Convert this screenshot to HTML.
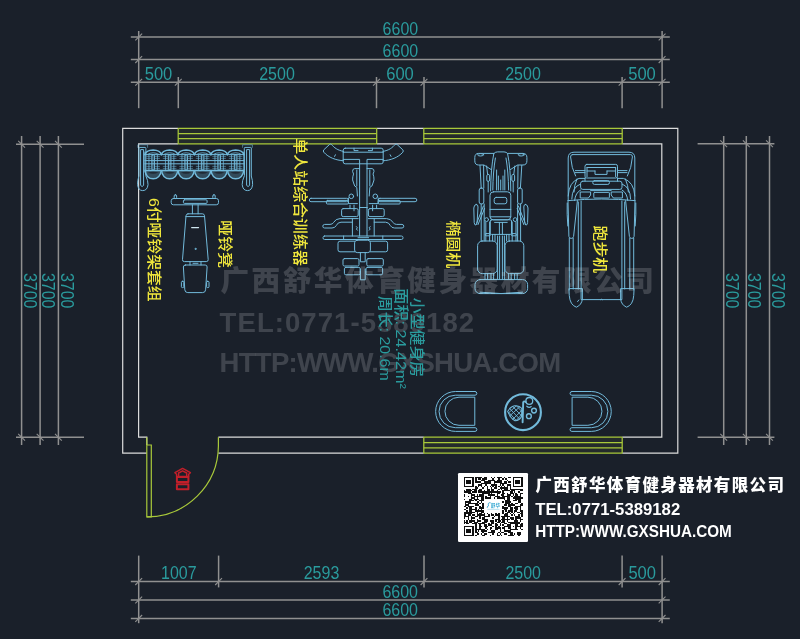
<!DOCTYPE html>
<html lang="zh-CN"><head><meta charset="utf-8"><title>小型健身房 平面布置图</title>
<style>html,body{margin:0;padding:0;background:#1a202a;overflow:hidden}svg{display:block;filter:blur(0.35px)}text{white-space:pre}</style>
</head><body>
<svg width="800" height="639" viewBox="0 0 800 639">
<rect width="800" height="639" fill="#1a202a"/>
<g id="dims" fill="none" stroke-linecap="butt">
<line x1="130.8" y1="37" x2="669.8" y2="37" stroke="#909090" stroke-width="1.5" />
<line x1="130.8" y1="59.6" x2="669.8" y2="59.6" stroke="#909090" stroke-width="1.5" />
<line x1="130.8" y1="82.3" x2="669.8" y2="82.3" stroke="#909090" stroke-width="1.5" />
<line x1="138.7" y1="31" x2="138.7" y2="108.2" stroke="#909090" stroke-width="1.5" />
<line x1="662.1" y1="31" x2="662.1" y2="108.2" stroke="#909090" stroke-width="1.5" />
<line x1="178.3" y1="77" x2="178.3" y2="108.2" stroke="#909090" stroke-width="1.5" />
<line x1="376.5" y1="77" x2="376.5" y2="108.2" stroke="#909090" stroke-width="1.5" />
<line x1="424" y1="77" x2="424" y2="108.2" stroke="#909090" stroke-width="1.5" />
<line x1="622.1" y1="77" x2="622.1" y2="108.2" stroke="#909090" stroke-width="1.5" />
<line x1="135.3" y1="40.4" x2="142.1" y2="33.6" stroke="#909090" stroke-width="1.1" />
<line x1="658.7" y1="40.4" x2="665.5" y2="33.6" stroke="#909090" stroke-width="1.1" />
<line x1="135.3" y1="63.0" x2="142.1" y2="56.2" stroke="#909090" stroke-width="1.1" />
<line x1="658.7" y1="63.0" x2="665.5" y2="56.2" stroke="#909090" stroke-width="1.1" />
<line x1="135.3" y1="85.7" x2="142.1" y2="78.9" stroke="#909090" stroke-width="1.1" />
<line x1="658.7" y1="85.7" x2="665.5" y2="78.9" stroke="#909090" stroke-width="1.1" />
<line x1="174.9" y1="85.7" x2="181.7" y2="78.9" stroke="#909090" stroke-width="1.1" />
<line x1="373.1" y1="85.7" x2="379.9" y2="78.9" stroke="#909090" stroke-width="1.1" />
<line x1="420.6" y1="85.7" x2="427.4" y2="78.9" stroke="#909090" stroke-width="1.1" />
<line x1="618.7" y1="85.7" x2="625.5" y2="78.9" stroke="#909090" stroke-width="1.1" />
<line x1="130.8" y1="581.6" x2="669.8" y2="581.6" stroke="#909090" stroke-width="1.5" />
<line x1="130.8" y1="600" x2="669.8" y2="600" stroke="#909090" stroke-width="1.5" />
<line x1="130.8" y1="618.4" x2="669.8" y2="618.4" stroke="#909090" stroke-width="1.5" />
<line x1="138.7" y1="555.6" x2="138.7" y2="623.2" stroke="#909090" stroke-width="1.5" />
<line x1="662.1" y1="555.6" x2="662.1" y2="623.2" stroke="#909090" stroke-width="1.5" />
<line x1="218.6" y1="555.6" x2="218.6" y2="587.4" stroke="#909090" stroke-width="1.5" />
<line x1="424" y1="555.6" x2="424" y2="587.4" stroke="#909090" stroke-width="1.5" />
<line x1="622.1" y1="555.6" x2="622.1" y2="587.4" stroke="#909090" stroke-width="1.5" />
<line x1="135.3" y1="585.0" x2="142.1" y2="578.2" stroke="#909090" stroke-width="1.1" />
<line x1="658.7" y1="585.0" x2="665.5" y2="578.2" stroke="#909090" stroke-width="1.1" />
<line x1="135.3" y1="603.4" x2="142.1" y2="596.6" stroke="#909090" stroke-width="1.1" />
<line x1="658.7" y1="603.4" x2="665.5" y2="596.6" stroke="#909090" stroke-width="1.1" />
<line x1="135.3" y1="621.8" x2="142.1" y2="615.0" stroke="#909090" stroke-width="1.1" />
<line x1="658.7" y1="621.8" x2="665.5" y2="615.0" stroke="#909090" stroke-width="1.1" />
<line x1="215.2" y1="585.0" x2="222.0" y2="578.2" stroke="#909090" stroke-width="1.1" />
<line x1="420.6" y1="585.0" x2="427.4" y2="578.2" stroke="#909090" stroke-width="1.1" />
<line x1="618.7" y1="585.0" x2="625.5" y2="578.2" stroke="#909090" stroke-width="1.1" />
<line x1="16" y1="144.2" x2="84" y2="144.2" stroke="#909090" stroke-width="1.5" />
<line x1="16" y1="437.2" x2="84" y2="437.2" stroke="#909090" stroke-width="1.5" />
<line x1="21.6" y1="136" x2="21.6" y2="445" stroke="#909090" stroke-width="1.5" />
<line x1="18.2" y1="140.8" x2="25.0" y2="147.6" stroke="#909090" stroke-width="1.1" />
<line x1="18.2" y1="433.8" x2="25.0" y2="440.6" stroke="#909090" stroke-width="1.1" />
<line x1="40.1" y1="136" x2="40.1" y2="445" stroke="#909090" stroke-width="1.5" />
<line x1="36.7" y1="140.8" x2="43.5" y2="147.6" stroke="#909090" stroke-width="1.1" />
<line x1="36.7" y1="433.8" x2="43.5" y2="440.6" stroke="#909090" stroke-width="1.1" />
<line x1="58.4" y1="136" x2="58.4" y2="445" stroke="#909090" stroke-width="1.5" />
<line x1="55.0" y1="140.8" x2="61.8" y2="147.6" stroke="#909090" stroke-width="1.1" />
<line x1="55.0" y1="433.8" x2="61.8" y2="440.6" stroke="#909090" stroke-width="1.1" />
<line x1="697.6" y1="143.8" x2="774.4" y2="143.8" stroke="#909090" stroke-width="1.5" />
<line x1="697.6" y1="437.2" x2="774.4" y2="437.2" stroke="#909090" stroke-width="1.5" />
<line x1="723.7" y1="136" x2="723.7" y2="445" stroke="#909090" stroke-width="1.5" />
<line x1="720.3" y1="140.4" x2="727.1" y2="147.2" stroke="#909090" stroke-width="1.1" />
<line x1="720.3" y1="433.8" x2="727.1" y2="440.6" stroke="#909090" stroke-width="1.1" />
<line x1="746.3" y1="136" x2="746.3" y2="445" stroke="#909090" stroke-width="1.5" />
<line x1="742.9" y1="140.4" x2="749.7" y2="147.2" stroke="#909090" stroke-width="1.1" />
<line x1="742.9" y1="433.8" x2="749.7" y2="440.6" stroke="#909090" stroke-width="1.1" />
<line x1="769.5" y1="136" x2="769.5" y2="445" stroke="#909090" stroke-width="1.5" />
<line x1="766.1" y1="140.4" x2="772.9" y2="147.2" stroke="#909090" stroke-width="1.1" />
<line x1="766.1" y1="433.8" x2="772.9" y2="440.6" stroke="#909090" stroke-width="1.1" />
</g>
<g id="walls" fill="none" stroke="#dcdcdc" stroke-width="1.2" stroke-linejoin="miter">
<path d="M146.8 453.2 H122.7 V128.3 H178.2"/>
<path d="M376.7 128.3 H423.8"/>
<path d="M622.2 128.3 H677.8 V453.2 H622.2"/>
<path d="M423.8 453.2 H218.4"/>
<path d="M146.8 445 V437.2 H138.6 V143.9 H178.2"/>
<path d="M376.7 143.9 H423.8"/>
<path d="M622.2 143.9 H661.8 V437.2 H622.2"/>
<path d="M423.8 437.2 H218.4"/>
</g>
<g id="windows" fill="none" stroke="#a9c93a" stroke-width="1.2">
<rect x="178.2" y="128.3" width="198.5" height="15.6" fill="#a9c93a" fill-opacity="0.07" stroke="none"/>
<line x1="178.2" y1="128.3" x2="376.7" y2="128.3" stroke="#a9c93a" stroke-width="1.25" />
<line x1="178.2" y1="133.5" x2="376.7" y2="133.5" stroke="#a9c93a" stroke-width="1.25" />
<line x1="178.2" y1="138.7" x2="376.7" y2="138.7" stroke="#a9c93a" stroke-width="1.25" />
<line x1="178.2" y1="143.9" x2="376.7" y2="143.9" stroke="#a9c93a" stroke-width="1.25" />
<line x1="178.2" y1="128.3" x2="178.2" y2="143.9" stroke="#a9c93a" stroke-width="1.25" />
<line x1="376.7" y1="128.3" x2="376.7" y2="143.9" stroke="#a9c93a" stroke-width="1.25" />
<rect x="423.8" y="128.3" width="198.4" height="15.6" fill="#a9c93a" fill-opacity="0.07" stroke="none"/>
<line x1="423.8" y1="128.3" x2="622.2" y2="128.3" stroke="#a9c93a" stroke-width="1.25" />
<line x1="423.8" y1="133.5" x2="622.2" y2="133.5" stroke="#a9c93a" stroke-width="1.25" />
<line x1="423.8" y1="138.7" x2="622.2" y2="138.7" stroke="#a9c93a" stroke-width="1.25" />
<line x1="423.8" y1="143.9" x2="622.2" y2="143.9" stroke="#a9c93a" stroke-width="1.25" />
<line x1="423.8" y1="128.3" x2="423.8" y2="143.9" stroke="#a9c93a" stroke-width="1.25" />
<line x1="622.2" y1="128.3" x2="622.2" y2="143.9" stroke="#a9c93a" stroke-width="1.25" />
<rect x="423.8" y="437.2" width="198.4" height="16.0" fill="#a9c93a" fill-opacity="0.07" stroke="none"/>
<line x1="423.8" y1="437.2" x2="622.2" y2="437.2" stroke="#a9c93a" stroke-width="1.25" />
<line x1="423.8" y1="442.53" x2="622.2" y2="442.53" stroke="#a9c93a" stroke-width="1.25" />
<line x1="423.8" y1="447.87" x2="622.2" y2="447.87" stroke="#a9c93a" stroke-width="1.25" />
<line x1="423.8" y1="453.2" x2="622.2" y2="453.2" stroke="#a9c93a" stroke-width="1.25" />
<line x1="423.8" y1="437.2" x2="423.8" y2="453.2" stroke="#a9c93a" stroke-width="1.25" />
<line x1="622.2" y1="437.2" x2="622.2" y2="453.2" stroke="#a9c93a" stroke-width="1.25" />
<path d="M146.8 437.2 V516.9 H151.3 V445 H146.8"/>
<path d="M218.4 437.2 V446 A71.6 71.5 0 0 1 146.8 516.9"/>
</g>
<g id="equipment" fill="none" color="#72badb" stroke="#72badb" stroke-width="1" stroke-linejoin="round" stroke-linecap="round">
<g id="rack">
<path d="M244.3 148 Q244.3 147.4 245 147.4 H250.6 Q251.3 147.4 251.3 148 V176 Q252.8 181 252.6 184.6 Q252 190.6 247.5 190.6 Q242.8 190.6 242.2 184.6 Q242 181 244.3 176 Z" />
<path d="M246.6 150 V185.4 Q248.1 187.6 249.6 185.4 V150 Z" />
<path d="M242.6 147.4 V144.8 H252.4 V147.4" stroke-opacity="0.55"/>
<path d="M145.9 148 Q145.9 147.4 145.2 147.4 H139.6 Q138.9 147.4 138.9 148 V176 Q137.4 181 137.6 184.6 Q138.2 190.6 142.7 190.6 Q147.4 190.6 148.0 184.6 Q148.2 181 145.9 176 Z" />
<path d="M143.6 150 V185.4 Q142.1 187.6 140.6 185.4 V150 Z" />
<path d="M147.6 147.4 V144.8 H137.8 V147.4" stroke-opacity="0.55"/>
<path d="M144.9 154.6 H243.9 M144.9 170.2 H243.9" />
<path d="M144.9 160.6 H243.9 M144.9 163.8 H243.9" />
<path d="M144.95 154.6 Q146.15 150.2 153.15 150 Q160.15 150.2 161.35 154.6" stroke-width="1.6"/>
<path d="M147.75 154.2 Q153.15 151.2 158.55 154.2" stroke-opacity="0.8"/>
<rect x="151.85" y="154.80" width="2.60" height="15.20" rx="0.6" fill="currentColor" fill-opacity="0.3"/>
<path d="M148.95 155.4 V169.6 M157.35 155.4 V169.6" stroke-opacity="0.75"/>
<path d="M155.35 156.4 H159.55 M146.75 156.4 H150.95 M155.35 158.4 H159.55 M146.75 158.4 H150.95 M155.35 166.4 H159.55 M146.75 166.4 H150.95 M155.35 168.4 H159.55 M146.75 168.4 H150.95" stroke-opacity="0.5"/>
<path d="M145.15 170.6 A8 8.2 0 0 0 161.15 170.6 Z" stroke-width="1.4" fill="currentColor" fill-opacity="0.28"/>
<path d="M147.95 172.4 Q153.15 171 158.35 172.4 Q153.15 175 147.95 172.4 Z" stroke="none" fill="#1a202a" fill-opacity="0.8"/>
<path d="M161.45 154.6 Q162.65 150.2 169.65 150 Q176.65 150.2 177.85 154.6" stroke-width="1.6"/>
<path d="M164.25 154.2 Q169.65 151.2 175.05 154.2" stroke-opacity="0.8"/>
<rect x="168.35" y="154.80" width="2.60" height="15.20" rx="0.6" fill="currentColor" fill-opacity="0.3"/>
<path d="M165.45 155.4 V169.6 M173.85 155.4 V169.6" stroke-opacity="0.75"/>
<path d="M171.85 156.4 H176.05 M163.25 156.4 H167.45 M171.85 158.4 H176.05 M163.25 158.4 H167.45 M171.85 166.4 H176.05 M163.25 166.4 H167.45 M171.85 168.4 H176.05 M163.25 168.4 H167.45" stroke-opacity="0.5"/>
<path d="M161.65 170.6 A8 8.2 0 0 0 177.65 170.6 Z" stroke-width="1.4" fill="currentColor" fill-opacity="0.28"/>
<path d="M164.45 172.4 Q169.65 171 174.85 172.4 Q169.65 175 164.45 172.4 Z" stroke="none" fill="#1a202a" fill-opacity="0.8"/>
<path d="M177.95 154.6 Q179.15 150.2 186.15 150 Q193.15 150.2 194.35 154.6" stroke-width="1.6"/>
<path d="M180.75 154.2 Q186.15 151.2 191.55 154.2" stroke-opacity="0.8"/>
<rect x="184.85" y="154.80" width="2.60" height="15.20" rx="0.6" fill="currentColor" fill-opacity="0.3"/>
<path d="M181.95 155.4 V169.6 M190.35 155.4 V169.6" stroke-opacity="0.75"/>
<path d="M188.35 156.4 H192.55 M179.75 156.4 H183.95 M188.35 158.4 H192.55 M179.75 158.4 H183.95 M188.35 166.4 H192.55 M179.75 166.4 H183.95 M188.35 168.4 H192.55 M179.75 168.4 H183.95" stroke-opacity="0.5"/>
<path d="M178.15 170.6 A8 8.2 0 0 0 194.15 170.6 Z" stroke-width="1.4" fill="currentColor" fill-opacity="0.28"/>
<path d="M180.95 172.4 Q186.15 171 191.35 172.4 Q186.15 175 180.95 172.4 Z" stroke="none" fill="#1a202a" fill-opacity="0.8"/>
<path d="M194.45 154.6 Q195.65 150.2 202.65 150 Q209.65 150.2 210.85 154.6" stroke-width="1.6"/>
<path d="M197.25 154.2 Q202.65 151.2 208.05 154.2" stroke-opacity="0.8"/>
<rect x="201.35" y="154.80" width="2.60" height="15.20" rx="0.6" fill="currentColor" fill-opacity="0.3"/>
<path d="M198.45 155.4 V169.6 M206.85 155.4 V169.6" stroke-opacity="0.75"/>
<path d="M204.85 156.4 H209.05 M196.25 156.4 H200.45 M204.85 158.4 H209.05 M196.25 158.4 H200.45 M204.85 166.4 H209.05 M196.25 166.4 H200.45 M204.85 168.4 H209.05 M196.25 168.4 H200.45" stroke-opacity="0.5"/>
<path d="M194.65 170.6 A8 8.2 0 0 0 210.65 170.6 Z" stroke-width="1.4" fill="currentColor" fill-opacity="0.28"/>
<path d="M197.45 172.4 Q202.65 171 207.85 172.4 Q202.65 175 197.45 172.4 Z" stroke="none" fill="#1a202a" fill-opacity="0.8"/>
<path d="M210.95 154.6 Q212.15 150.2 219.15 150 Q226.15 150.2 227.35 154.6" stroke-width="1.6"/>
<path d="M213.75 154.2 Q219.15 151.2 224.55 154.2" stroke-opacity="0.8"/>
<rect x="217.85" y="154.80" width="2.60" height="15.20" rx="0.6" fill="currentColor" fill-opacity="0.3"/>
<path d="M214.95 155.4 V169.6 M223.35 155.4 V169.6" stroke-opacity="0.75"/>
<path d="M221.35 156.4 H225.55 M212.75 156.4 H216.95 M221.35 158.4 H225.55 M212.75 158.4 H216.95 M221.35 166.4 H225.55 M212.75 166.4 H216.95 M221.35 168.4 H225.55 M212.75 168.4 H216.95" stroke-opacity="0.5"/>
<path d="M211.15 170.6 A8 8.2 0 0 0 227.15 170.6 Z" stroke-width="1.4" fill="currentColor" fill-opacity="0.28"/>
<path d="M213.95 172.4 Q219.15 171 224.35 172.4 Q219.15 175 213.95 172.4 Z" stroke="none" fill="#1a202a" fill-opacity="0.8"/>
<path d="M227.45 154.6 Q228.65 150.2 235.65 150 Q242.65 150.2 243.85 154.6" stroke-width="1.6"/>
<path d="M230.25 154.2 Q235.65 151.2 241.05 154.2" stroke-opacity="0.8"/>
<rect x="234.35" y="154.80" width="2.60" height="15.20" rx="0.6" fill="currentColor" fill-opacity="0.3"/>
<path d="M231.45 155.4 V169.6 M239.85 155.4 V169.6" stroke-opacity="0.75"/>
<path d="M237.85 156.4 H242.05 M229.25 156.4 H233.45 M237.85 158.4 H242.05 M229.25 158.4 H233.45 M237.85 166.4 H242.05 M229.25 166.4 H233.45 M237.85 168.4 H242.05 M229.25 168.4 H233.45" stroke-opacity="0.5"/>
<path d="M227.65 170.6 A8 8.2 0 0 0 243.65 170.6 Z" stroke-width="1.4" fill="currentColor" fill-opacity="0.28"/>
<path d="M230.45 172.4 Q235.65 171 240.85 172.4 Q235.65 175 230.45 172.4 Z" stroke="none" fill="#1a202a" fill-opacity="0.8"/>
<path d="M144.9 152 V172 M243.9 152 V172" />
</g>
<g id="bench">
<rect x="171.20" y="198.50" width="47.30" height="6.30" rx="2.2" />
<rect x="183.40" y="199.80" width="23.70" height="3.60" rx="1" />
<rect x="174.20" y="194.80" width="2.40" height="3.80" rx="1.1" />
<rect x="212.80" y="194.80" width="2.40" height="3.80" rx="1.1" />
<path d="M192.4 204.8 V213.8 M198.1 204.8 V213.8" />
<path d="M188 213.8 H202.4 Q204.3 213.8 204.5 215.8 L208.2 259.6 Q208.3 261.6 206.3 261.6 H184.4 Q182.4 261.6 182.5 259.6 L186 215.8 Q186.2 213.8 188 213.8 Z" />
<path d="M186 216.6 H204.6" />
<path d="M191.6 227.6 H198.6" stroke-width="1.1" stroke="#cfe6f0"/>
<circle cx="195.5" cy="248.9" r="0.6"/>
<path d="M190 261.6 V265 M201 261.6 V265 M193 263.3 H198" />
<path d="M185.4 265 H205.2 Q207.2 265 207.1 267 L205.6 289.8 Q205.4 292.6 202.6 292.6 H187.8 Q185 292.6 184.8 289.8 L183.4 267 Q183.3 265 185.4 265 Z" />
<rect x="181.40" y="281.30" width="2.40" height="6.30" rx="1" />
<rect x="206.60" y="281.30" width="2.40" height="6.30" rx="1" />
</g>
<g id="trainer">
<path d="M383 151.4 C389 150.4 392.6 147.6 395 144.5 Q396.2 143.6 397.2 144.6 L402.8 149.8 Q403.8 151 402.8 152.2 C398 157.6 391 160.2 383 160.8" />
<path d="M343.6 151.4 C337.6 150.4 334.0 147.6 331.6 144.5 Q330.4 143.6 329.4 144.6 L323.8 149.8 Q322.8 151 323.8 152.2 C328.6 157.6 335.6 160.2 343.6 160.8" />
<path d="M334.6 156.4 L335.4 154.8 M391 156.4 L390.2 154.8" />
<rect x="343.20" y="148.20" width="40.00" height="15.60" rx="2" />
<path d="M343.2 152.2 H383.2 M343.2 159.4 H359.6 V207.5 M383.2 159.4 H367 V207.5" />
<path d="M354 148.2 V150.6 H358 M372.4 148.2 V150.6 H368.4" />
<path d="M359.6 168.6 H354.6 Q352.4 168.8 352.6 171.4 Q354.4 174 352.8 176.8 Q352 180 353.6 183 Q354.2 186.8 356.8 187.4 L357.4 196" />
<path d="M367 168.6 H372 Q374.2 168.8 374 171.4 Q372.2 174 373.8 176.8 Q374.6 180 373 183 Q372.4 186.8 369.8 187.4 L369.2 196" />
<path d="M356.8 170 V186 M369.8 170 V186" />
<circle cx="351.3" cy="196.3" r="2.3"/><circle cx="375.3" cy="196.3" r="2.3"/>
<path d="M348.4 198 V203.6 H357.4 M378.2 198 V203.6 H369.2" />
<rect x="309.30" y="198.30" width="39.00" height="3.40" rx="1.7" />
<rect x="326.40" y="200.40" width="22.00" height="3.60" rx="1" />
<rect x="378.20" y="198.30" width="38.60" height="3.40" rx="1.7" />
<rect x="378.20" y="200.40" width="22.00" height="3.60" rx="1" />
<rect x="341.60" y="208.60" width="16.60" height="8.00" rx="1.6" />
<rect x="368.40" y="208.60" width="15.80" height="8.00" rx="1.6" />
<path d="M350 205.2 V208.6 M354 205.2 V210.8 M376.6 205.2 V208.6 M372.6 205.2 V210.8" />
<path d="M359.6 207.5 H367" />
<path d="M358.2 218.6 H340 Q335.6 218.8 333.6 222.4 Q332.6 224.4 330 224.4 H324.6 Q322.8 224.6 322.8 226.2 Q322.8 228 324.6 228 H332 Q335 228 336.4 225.4 Q337.6 222.4 341 222.2 H352.4" />
<path d="M368.4 218.6 H386.6 Q391 218.8 393 222.4 Q394 224.4 396.6 224.4 H402 Q403.8 224.6 403.8 226.2 Q403.8 228 402 228 H394.6 Q391.6 228 390.2 225.4 Q389 222.4 385.6 222.2 H374.2" />
<path d="M352.4 218.6 V236 M374.2 218.6 V236 M359.6 207.5 V236 M367 207.5 V236" />
<path d="M356.4 226.6 l1 1.2 l-1 1.2 l1 1.2 M370.2 226.6 l-1 1.2 l1 1.2 l-1 1.2" />
<rect x="323.00" y="236.00" width="80.00" height="3.50" rx="1.6" />
<path d="M343.6 236 V239.5 M382.8 236 V239.5 M358 237.7 H368.6" />
<path d="M354.6 241.2 H340 Q338 241.2 338 243.2 V249.8 Q338 251.8 340 251.8 H354.6 M370.4 241.2 H385.6 Q387.6 241.2 387.6 243.2 V249.8 Q387.6 251.8 385.6 251.8 H370.4" />
<rect x="354.60" y="240.20" width="15.80" height="12.40" rx="2.6" />
<path d="M360.4 252.6 V261.8 H365.2 V252.6" />
<rect x="343.00" y="258.60" width="16.00" height="7.40" rx="1.4" />
<rect x="366.80" y="258.60" width="16.50" height="7.40" rx="1.4" />
<rect x="344.40" y="267.40" width="15.80" height="7.40" rx="1.4" />
<rect x="366.00" y="267.40" width="16.60" height="7.40" rx="1.4" />
<path d="M360.4 269 V279.8 H365.2 V269" />
</g>
<g id="elliptical">
<path d="M493.6 153.4 H478.6 Q474.8 153.4 474.8 157.6 V160.8 Q474.8 165 478.6 165 H484 L491.2 169.6" />
<path d="M507.6 153.4 H523 Q526.9 153.4 526.9 157.6 V160.8 Q526.9 165 523 165 H517.6 L510.4 169.6" />
<ellipse cx="480.6" cy="154.8" rx="3" ry="1.2"/><ellipse cx="521.2" cy="154.8" rx="3" ry="1.2"/>
<path d="M493.8 153.6 Q495 151.9 497.4 151.9 H504 Q506.4 151.9 507.6 153.6 Q510.6 168 510.8 191 M493.8 153.6 Q490.8 168 490.6 191" />
<path d="M495.4 158 Q493 172 492.8 190 M506 158 Q508.4 172 508.6 190" />
<path d="M496.6 170 V190 M498.4 176 V190 M500.7 180 V190 M503 176 V190 M504.8 170 V190" />
<path d="M480 165.4 L481.2 188 M483.6 165.4 L483.8 188 M521.8 165.4 L520.4 188 M518 165.4 L517.8 188" />
<rect x="479.20" y="188.00" width="4.60" height="16.00" rx="2" />
<rect x="517.60" y="188.00" width="4.60" height="16.00" rx="2" />
<rect x="486.80" y="174.40" width="2.80" height="7.00" rx="1.4" />
<rect x="511.80" y="174.40" width="2.80" height="7.00" rx="1.4" />
<path d="M488.2 181.4 V192 M513.2 181.4 V192 M486.6 166 L487.6 174.4 M514.8 166 L513.8 174.4" />
<rect x="490.00" y="191.80" width="20.80" height="28.00" rx="3.4" />
<rect x="494.20" y="197.40" width="12.60" height="6.40" rx="2" />
<path d="M490 209.4 H510.8 M490 216.8 H510.8" />
<path d="M476.2 204.4 Q474 204.6 473.8 208 L474.2 222.6 Q474.6 225.6 476 225 Q477 224.4 477.2 221 L478 207 Q478.2 204.4 476.2 204.4 Z" />
<path d="M483.4 206 L476.6 223.4 M484.6 208.4 L478 224.6" />
<path d="M481.2 204 V241 M484.2 204 V241" />
<path d="M525.6 204.4 Q527.8 204.6 528.0 208 L527.6 222.6 Q527.2 225.6 525.8 225 Q524.8 224.4 524.6 221 L523.8 207 Q523.6 204.4 525.6 204.4 Z" />
<path d="M518.4 206 L525.2 223.4 M517.2 208.4 L523.8 224.6" />
<path d="M520.6 204 V241 M517.6 204 V241" />
<rect x="490.30" y="219.80" width="21.20" height="14.60" rx="1.2" />
<path d="M494.6 222.4 H507.2 M499.4 222.4 V234.4 M502.4 222.4 V234.4" />
<circle cx="486.6" cy="219.6" r="1.9" fill="#141a22"/><circle cx="515.2" cy="219.6" r="1.9" fill="#141a22"/>
<path d="M485.8 222 V241 M489.6 222 V241 M512.2 222 V241 M516 222 V241" />
<rect x="485.40" y="233.60" width="5.00" height="2.20" rx="0.8" />
<rect x="511.40" y="233.60" width="5.00" height="2.20" rx="0.8" />
<path d="M492.6 234.4 V241 M495 234.4 V241 M506.6 234.4 V241 M509 234.4 V241" />
<path d="M497.6 236 V279.6 M499.6 236 V279.6 M502.4 236 V279.6 M504.4 236 V279.6" />
<rect x="477.60" y="241.00" width="19.60" height="32.60" rx="4.6" />
<rect x="505.00" y="241.00" width="18.80" height="32.60" rx="4.6" />
<path d="M485 273.6 V279.6 M487.6 273.6 V279.6 M491 273.6 V279.6 M493.6 273.6 V279.6" />
<path d="M508.6 273.6 V279.6 M511.2 273.6 V279.6 M514.6 273.6 V279.6 M517.2 273.6 V279.6" />
<rect x="475.00" y="279.60" width="52.60" height="14.00" rx="5" />
<path d="M480 292.2 Q501 295 522.6 292.2" />
</g>
<g id="treadmill">
<path d="M568.2 200.4 V158 Q568.2 152.2 574 152.2 H629 Q634.8 152.2 634.8 158 V200.4" />
<path d="M572.4 154.6 H630.6 Q632.6 154.6 632.4 157 Q631.6 168 627.4 176 M572.4 154.6 Q570.4 154.6 570.6 157 Q571.4 168 575.6 176" />
<rect x="585.00" y="164.40" width="32.50" height="13.60" rx="1.8" />
<path d="M587 167.5 H615.6 M587 167.5 V176.6 M615.6 167.5 V176.6 M595 171 V174.4 H607 V171 M587 171 H595 M607 171 H615.6" />
<path d="M575.4 170.6 H585 M575.4 172.6 H585 M617.5 170.6 H627 M617.5 172.6 H627" />
<rect x="580.60" y="181.20" width="41.40" height="8.20" rx="2.2" />
<rect x="592.80" y="180.60" width="16.60" height="3.80" rx="1.6" />
<path d="M585 178 V181.2 M617.5 178 V181.2" />
<rect x="593.80" y="192.40" width="15.60" height="5.60" rx="0.6" />
<path d="M580.6 192 H590.6 V195 L588.4 198 H580.6 Z M622 192 H611.2 V195 L613.4 198 H622 Z" />
<path d="M590.6 190.6 H611.2" />
<path d="M568.2 196 Q568.8 182 579 178.4 H585 M634.8 196 Q634.2 182 623.4 178.4 H617.5" />
<path d="M571.8 199 Q572 187 580.6 184 M630.6 199 Q630.4 187 622 184" />
<path d="M574.6 200.6 Q575.4 192.6 580.6 190 M627.8 200.6 Q627 192.6 622 190" />
<path d="M577 178.8 Q574 186 574 192 M625.4 178.8 Q628.4 186 628.4 192" />
<path d="M568.2 200.6 Q601.5 197.4 634.8 200.6" />
<path d="M578.3 202 V289 M581.1 201 V299.6 H621.9 V201 M624.7 202 V289" />
<path d="M568 200.4 L568.9 236.4 Q569 238.4 571.2 238.4 Q573.5 238.4 573.6 236.4 L577.4 200.6" />
<path d="M635 200.4 L634.1 236.4 Q634 238.4 631.8 238.4 Q629.5 238.4 629.4 236.4 L625.6 200.6" />
<path d="M567.2 203 Q566.8 214 567.8 226 M635.8 203 Q636.2 214 635.2 226" />
<path d="M569.3 238.4 V290 M573.2 238.4 V289 M633.7 238.4 V290 M629.8 238.4 V289" />
<path d="M569.3 288.6 H582.4 V299 Q581.6 305 576.4 307.2 Q570 305 569.3 296 Z" />
<path d="M633.7 288.6 H620.6 V299 Q621.4 305 626.6 307.2 Q633 305 633.7 296 Z" />
<path d="M577.6 301.6 l1.2 -1.6 M600.4 299.6 q1 -1 2 0" />
</g>
<g id="lounge">
<path d="M475 391.5 H455.6 A19.95 19.95 0 0 0 455.6 431.4 H475 A1.85 1.85 0 0 0 475 427.7 H455.3 A16.25 16.25 0 0 1 455.3 395.2 H475 A1.85 1.85 0 0 0 475 391.5 Z" />
<path d="M474.4 397.2 H459 A14.05 14.05 0 0 0 459 425.3 H474.4 Z" />
<path d="M571.9 391.5 H591.3 A19.95 19.95 0 0 1 591.3 431.4 H571.9 A1.85 1.85 0 0 1 571.9 427.7 H591.6 A16.25 16.25 0 0 0 591.6 395.2 H571.9 A1.85 1.85 0 0 1 571.9 391.5 Z" />
<path d="M572.5 397.2 H587.9 A14.05 14.05 0 0 1 587.9 425.3 H572.5 Z" />
<circle cx="523" cy="412.2" r="17.9" stroke-width="2.1"/>
<circle cx="529.3" cy="400.9" r="3.4" stroke-width="1.3"/><circle cx="534" cy="410.6" r="2.4" stroke-width="1.4"/><circle cx="528.9" cy="416.2" r="2.4" stroke-width="1.4"/>
<path d="M526.8 406.2 Q529 408.2 531.2 406.6" stroke-width="1.2"/>
<path d="M525.8 402 Q524.2 400.6 523.2 402.2 L522.6 422.2" stroke-width="1.9"/>
<path d="M507.6 411.4 Q510 407 514.6 405.8 Q519.6 405.6 521.8 408.6 L521.6 416.4 Q519.8 420.2 515 420.8 Q510.6 418.4 507.6 411.4 Z" stroke-width="1.1"/>
<path d="M510 408.8 L519.4 418.8 M513 406.8 L521.4 415.6 M509 412.6 L515.8 420 M516.6 406 L521.6 411.2 M519.6 407 L509.8 415.8 M521.6 410.6 L512.6 419.4 M516 406.2 L508.6 412.8 M521.6 414.6 L516.6 420" stroke-width="0.9"/>
</g>
</g>
<g id="watermark" font-family='"Liberation Sans", "Noto Sans CJK SC", sans-serif' font-weight="bold" fill="#ffffff" fill-opacity="0.165">
<text x="220.4" y="291" font-size="28.6" font-weight="900" textLength="433.5" lengthAdjust="spacing">广西舒华体育健身器材有限公司</text>
<text x="219.6" y="332" font-size="27.5" textLength="254.5" lengthAdjust="spacing">TEL:0771-5389182</text>
<text x="219.6" y="372" font-size="27.5" textLength="341.5" lengthAdjust="spacing">HTTP:WWW.GXSHUA.COM</text>
</g>
<g id="labels" font-family='"Liberation Sans", "Noto Sans CJK SC", sans-serif'>
<text x="149.17" y="249.8" fill="#efe63c" font-size="14.8" font-weight="500" text-anchor="middle" transform="rotate(90 149.17 249.8)" textLength="103.5" lengthAdjust="spacingAndGlyphs" >6付哑铃架套组</text>
<text x="220.17" y="244.1" fill="#efe63c" font-size="14.8" font-weight="500" text-anchor="middle" transform="rotate(90 220.17 244.1)" textLength="47.5" lengthAdjust="spacingAndGlyphs" >哑铃凳</text>
<text x="294.97" y="202.1" fill="#efe63c" font-size="14.8" font-weight="500" text-anchor="middle" transform="rotate(90 294.97 202.1)" textLength="127.6" lengthAdjust="spacingAndGlyphs" >单人站综合训练器</text>
<text x="447.97" y="244.5" fill="#efe63c" font-size="14.8" font-weight="500" text-anchor="middle" transform="rotate(90 447.97 244.5)" textLength="47.4" lengthAdjust="spacingAndGlyphs" >椭圆机</text>
<text x="594.77" y="249.4" fill="#efe63c" font-size="14.8" font-weight="500" text-anchor="middle" transform="rotate(90 594.77 249.4)" textLength="47.6" lengthAdjust="spacingAndGlyphs" >跑步机</text>
<text x="412.34" y="337.4" fill="#2a9b9d" font-size="14.6" font-weight="500" text-anchor="middle" transform="rotate(90 412.34 337.4)" textLength="80" lengthAdjust="spacingAndGlyphs" >小型健身房</text>
<text x="396.44" y="338.6" fill="#2a9b9d" font-size="14.6" font-weight="500" text-anchor="middle" transform="rotate(90 396.44 338.6)" textLength="100.8" lengthAdjust="spacingAndGlyphs" >面积: 24.42m²</text>
<text x="379.74" y="338.2" fill="#2a9b9d" font-size="14.6" font-weight="500" text-anchor="middle" transform="rotate(90 379.74 338.2)" textLength="85" lengthAdjust="spacingAndGlyphs" >周长: 20.6m</text>
</g>
<g id="dimtext" font-family='"Liberation Sans", "Noto Sans CJK SC", sans-serif'>
<text x="400.4" y="34.8" fill="#2a9b9d" font-size="17.5" font-weight="normal" text-anchor="middle" textLength="35.6" lengthAdjust="spacingAndGlyphs" >6600</text>
<text x="400.4" y="57.2" fill="#2a9b9d" font-size="17.5" font-weight="normal" text-anchor="middle" textLength="35.6" lengthAdjust="spacingAndGlyphs" >6600</text>
<text x="158.5" y="79.9" fill="#2a9b9d" font-size="17.5" font-weight="normal" text-anchor="middle" textLength="27.6" lengthAdjust="spacingAndGlyphs" >500</text>
<text x="277" y="79.9" fill="#2a9b9d" font-size="17.5" font-weight="normal" text-anchor="middle" textLength="35.6" lengthAdjust="spacingAndGlyphs" >2500</text>
<text x="400" y="79.9" fill="#2a9b9d" font-size="17.5" font-weight="normal" text-anchor="middle" textLength="27.6" lengthAdjust="spacingAndGlyphs" >600</text>
<text x="523" y="79.9" fill="#2a9b9d" font-size="17.5" font-weight="normal" text-anchor="middle" textLength="35.6" lengthAdjust="spacingAndGlyphs" >2500</text>
<text x="642" y="79.9" fill="#2a9b9d" font-size="17.5" font-weight="normal" text-anchor="middle" textLength="27.6" lengthAdjust="spacingAndGlyphs" >500</text>
<text x="178.8" y="579.2" fill="#2a9b9d" font-size="17.5" font-weight="normal" text-anchor="middle" textLength="35.6" lengthAdjust="spacingAndGlyphs" >1007</text>
<text x="321.5" y="579.2" fill="#2a9b9d" font-size="17.5" font-weight="normal" text-anchor="middle" textLength="35.6" lengthAdjust="spacingAndGlyphs" >2593</text>
<text x="523.2" y="579.2" fill="#2a9b9d" font-size="17.5" font-weight="normal" text-anchor="middle" textLength="35.6" lengthAdjust="spacingAndGlyphs" >2500</text>
<text x="642.2" y="579.2" fill="#2a9b9d" font-size="17.5" font-weight="normal" text-anchor="middle" textLength="27.6" lengthAdjust="spacingAndGlyphs" >500</text>
<text x="400.2" y="597.5" fill="#2a9b9d" font-size="17.5" font-weight="normal" text-anchor="middle" textLength="35.6" lengthAdjust="spacingAndGlyphs" >6600</text>
<text x="400.2" y="616" fill="#2a9b9d" font-size="17.5" font-weight="normal" text-anchor="middle" textLength="35.6" lengthAdjust="spacingAndGlyphs" >6600</text>
<text x="24" y="290.7" fill="#2a9b9d" font-size="17.5" font-weight="normal" text-anchor="middle" transform="rotate(90 24 290.7)" textLength="35.6" lengthAdjust="spacingAndGlyphs" >3700</text>
<text x="42.2" y="290.7" fill="#2a9b9d" font-size="17.5" font-weight="normal" text-anchor="middle" transform="rotate(90 42.2 290.7)" textLength="35.6" lengthAdjust="spacingAndGlyphs" >3700</text>
<text x="60.6" y="290.7" fill="#2a9b9d" font-size="17.5" font-weight="normal" text-anchor="middle" transform="rotate(90 60.6 290.7)" textLength="35.6" lengthAdjust="spacingAndGlyphs" >3700</text>
<text x="725.8" y="290.7" fill="#2a9b9d" font-size="17.5" font-weight="normal" text-anchor="middle" transform="rotate(90 725.8 290.7)" textLength="35.6" lengthAdjust="spacingAndGlyphs" >3700</text>
<text x="748.4" y="290.7" fill="#2a9b9d" font-size="17.5" font-weight="normal" text-anchor="middle" transform="rotate(90 748.4 290.7)" textLength="35.6" lengthAdjust="spacingAndGlyphs" >3700</text>
<text x="771.6" y="290.7" fill="#2a9b9d" font-size="17.5" font-weight="normal" text-anchor="middle" transform="rotate(90 771.6 290.7)" textLength="35.6" lengthAdjust="spacingAndGlyphs" >3700</text>
</g>
<g id="entry" fill="none" stroke="#c11f2a" stroke-width="1.5" stroke-linejoin="round" stroke-linecap="round">
<path d="M182.6 468.4 L190.4 472.7 L188.7 474.2 V476.4 H176.6 V474.2 L174.9 472.7 Z"/>
<path d="M178.6 476 V473 L182.6 470.8 L186.7 473 V476"/>
<rect x="176.9" y="477" width="11.5" height="4.9" stroke-width="2"/>
<rect x="176.9" y="484.2" width="11.5" height="5" stroke-width="2"/>
</g>
<g id="qr">
<rect x="458" y="473" width="70" height="69" rx="1.2" fill="#ffffff"/>
<path d="M463.60 477.00h10.07v1.44h-10.07zM475.11 477.00h7.20v1.44h-7.20zM483.75 477.00h2.88v1.44h-2.88zM490.94 477.00h1.44v1.44h-1.44zM493.82 477.00h1.44v1.44h-1.44zM496.70 477.00h5.76v1.44h-5.76zM503.89 477.00h1.44v1.44h-1.44zM508.21 477.00h2.88v1.44h-2.88zM512.53 477.00h10.07v1.44h-10.07zM463.60 478.44h1.44v1.44h-1.44zM472.23 478.44h1.44v1.44h-1.44zM475.11 478.44h1.44v1.44h-1.44zM477.99 478.44h2.88v1.44h-2.88zM482.31 478.44h4.32v1.44h-4.32zM492.38 478.44h1.44v1.44h-1.44zM498.14 478.44h1.44v1.44h-1.44zM502.45 478.44h1.44v1.44h-1.44zM505.33 478.44h1.44v1.44h-1.44zM512.53 478.44h1.44v1.44h-1.44zM521.16 478.44h1.44v1.44h-1.44zM463.60 479.88h1.44v1.44h-1.44zM466.48 479.88h4.32v1.44h-4.32zM472.23 479.88h1.44v1.44h-1.44zM475.11 479.88h1.44v1.44h-1.44zM480.87 479.88h4.32v1.44h-4.32zM488.06 479.88h7.20v1.44h-7.20zM496.70 479.88h5.76v1.44h-5.76zM506.77 479.88h1.44v1.44h-1.44zM512.53 479.88h1.44v1.44h-1.44zM515.40 479.88h4.32v1.44h-4.32zM521.16 479.88h1.44v1.44h-1.44zM463.60 481.32h1.44v1.44h-1.44zM466.48 481.32h4.32v1.44h-4.32zM472.23 481.32h1.44v1.44h-1.44zM475.11 481.32h5.76v1.44h-5.76zM483.75 481.32h7.20v1.44h-7.20zM493.82 481.32h8.63v1.44h-8.63zM503.89 481.32h2.88v1.44h-2.88zM508.21 481.32h2.88v1.44h-2.88zM512.53 481.32h1.44v1.44h-1.44zM515.40 481.32h4.32v1.44h-4.32zM521.16 481.32h1.44v1.44h-1.44zM463.60 482.76h1.44v1.44h-1.44zM466.48 482.76h4.32v1.44h-4.32zM472.23 482.76h1.44v1.44h-1.44zM480.87 482.76h10.07v1.44h-10.07zM493.82 482.76h1.44v1.44h-1.44zM499.58 482.76h7.20v1.44h-7.20zM512.53 482.76h1.44v1.44h-1.44zM515.40 482.76h4.32v1.44h-4.32zM521.16 482.76h1.44v1.44h-1.44zM463.60 484.20h1.44v1.44h-1.44zM472.23 484.20h1.44v1.44h-1.44zM477.99 484.20h4.32v1.44h-4.32zM485.19 484.20h1.44v1.44h-1.44zM490.94 484.20h5.76v1.44h-5.76zM499.58 484.20h1.44v1.44h-1.44zM502.45 484.20h1.44v1.44h-1.44zM506.77 484.20h4.32v1.44h-4.32zM512.53 484.20h1.44v1.44h-1.44zM521.16 484.20h1.44v1.44h-1.44zM463.60 485.63h10.07v1.44h-10.07zM475.11 485.63h1.44v1.44h-1.44zM477.99 485.63h1.44v1.44h-1.44zM480.87 485.63h1.44v1.44h-1.44zM483.75 485.63h1.44v1.44h-1.44zM486.62 485.63h1.44v1.44h-1.44zM489.50 485.63h1.44v1.44h-1.44zM492.38 485.63h1.44v1.44h-1.44zM495.26 485.63h1.44v1.44h-1.44zM498.14 485.63h1.44v1.44h-1.44zM501.01 485.63h1.44v1.44h-1.44zM503.89 485.63h1.44v1.44h-1.44zM506.77 485.63h1.44v1.44h-1.44zM509.65 485.63h1.44v1.44h-1.44zM512.53 485.63h10.07v1.44h-10.07zM475.11 487.07h2.88v1.44h-2.88zM482.31 487.07h1.44v1.44h-1.44zM486.62 487.07h1.44v1.44h-1.44zM490.94 487.07h1.44v1.44h-1.44zM493.82 487.07h2.88v1.44h-2.88zM499.58 487.07h8.63v1.44h-8.63zM509.65 487.07h1.44v1.44h-1.44zM466.48 488.51h4.32v1.44h-4.32zM472.23 488.51h4.32v1.44h-4.32zM479.43 488.51h2.88v1.44h-2.88zM486.62 488.51h2.88v1.44h-2.88zM490.94 488.51h2.88v1.44h-2.88zM498.14 488.51h1.44v1.44h-1.44zM501.01 488.51h1.44v1.44h-1.44zM503.89 488.51h4.32v1.44h-4.32zM509.65 488.51h12.95v1.44h-12.95zM463.60 489.95h1.44v1.44h-1.44zM466.48 489.95h5.76v1.44h-5.76zM473.67 489.95h2.88v1.44h-2.88zM477.99 489.95h4.32v1.44h-4.32zM483.75 489.95h1.44v1.44h-1.44zM486.62 489.95h2.88v1.44h-2.88zM490.94 489.95h2.88v1.44h-2.88zM496.70 489.95h1.44v1.44h-1.44zM502.45 489.95h7.20v1.44h-7.20zM511.09 489.95h4.32v1.44h-4.32zM519.72 489.95h2.88v1.44h-2.88zM463.60 491.39h7.20v1.44h-7.20zM472.23 491.39h4.32v1.44h-4.32zM477.99 491.39h23.02v1.44h-23.02zM502.45 491.39h1.44v1.44h-1.44zM509.65 491.39h2.88v1.44h-2.88zM513.97 491.39h1.44v1.44h-1.44zM518.28 491.39h1.44v1.44h-1.44zM467.92 492.83h4.32v1.44h-4.32zM482.31 492.83h7.20v1.44h-7.20zM490.94 492.83h1.44v1.44h-1.44zM496.70 492.83h2.88v1.44h-2.88zM502.45 492.83h2.88v1.44h-2.88zM506.77 492.83h1.44v1.44h-1.44zM509.65 492.83h4.32v1.44h-4.32zM515.40 492.83h1.44v1.44h-1.44zM519.72 492.83h2.88v1.44h-2.88zM463.60 494.27h1.44v1.44h-1.44zM470.80 494.27h4.32v1.44h-4.32zM476.55 494.27h1.44v1.44h-1.44zM479.43 494.27h4.32v1.44h-4.32zM488.06 494.27h7.20v1.44h-7.20zM496.70 494.27h1.44v1.44h-1.44zM501.01 494.27h2.88v1.44h-2.88zM506.77 494.27h4.32v1.44h-4.32zM512.53 494.27h1.44v1.44h-1.44zM515.40 494.27h2.88v1.44h-2.88zM519.72 494.27h1.44v1.44h-1.44zM463.60 495.71h1.44v1.44h-1.44zM467.92 495.71h1.44v1.44h-1.44zM470.80 495.71h1.44v1.44h-1.44zM473.67 495.71h10.07v1.44h-10.07zM485.19 495.71h1.44v1.44h-1.44zM489.50 495.71h1.44v1.44h-1.44zM495.26 495.71h4.32v1.44h-4.32zM502.45 495.71h7.20v1.44h-7.20zM511.09 495.71h1.44v1.44h-1.44zM513.97 495.71h7.20v1.44h-7.20zM470.80 497.15h4.32v1.44h-4.32zM476.55 497.15h1.44v1.44h-1.44zM480.87 497.15h2.88v1.44h-2.88zM485.19 497.15h5.76v1.44h-5.76zM493.82 497.15h1.44v1.44h-1.44zM496.70 497.15h8.63v1.44h-8.63zM506.77 497.15h2.88v1.44h-2.88zM512.53 497.15h10.07v1.44h-10.07zM463.60 498.59h1.44v1.44h-1.44zM469.36 498.59h2.88v1.44h-2.88zM473.67 498.59h5.76v1.44h-5.76zM480.87 498.59h2.88v1.44h-2.88zM503.89 498.59h1.44v1.44h-1.44zM506.77 498.59h2.88v1.44h-2.88zM515.40 498.59h5.76v1.44h-5.76zM469.36 500.02h4.32v1.44h-4.32zM475.11 500.02h1.44v1.44h-1.44zM479.43 500.02h4.32v1.44h-4.32zM505.33 500.02h4.32v1.44h-4.32zM512.53 500.02h4.32v1.44h-4.32zM518.28 500.02h2.88v1.44h-2.88zM465.04 501.46h5.76v1.44h-5.76zM476.55 501.46h2.88v1.44h-2.88zM480.87 501.46h1.44v1.44h-1.44zM502.45 501.46h1.44v1.44h-1.44zM505.33 501.46h5.76v1.44h-5.76zM518.28 501.46h2.88v1.44h-2.88zM465.04 502.90h1.44v1.44h-1.44zM467.92 502.90h10.07v1.44h-10.07zM479.43 502.90h1.44v1.44h-1.44zM482.31 502.90h1.44v1.44h-1.44zM505.33 502.90h4.32v1.44h-4.32zM511.09 502.90h1.44v1.44h-1.44zM515.40 502.90h2.88v1.44h-2.88zM521.16 502.90h1.44v1.44h-1.44zM465.04 504.34h4.32v1.44h-4.32zM475.11 504.34h4.32v1.44h-4.32zM482.31 504.34h1.44v1.44h-1.44zM503.89 504.34h2.88v1.44h-2.88zM508.21 504.34h7.20v1.44h-7.20zM519.72 504.34h2.88v1.44h-2.88zM463.60 505.78h2.88v1.44h-2.88zM467.92 505.78h5.76v1.44h-5.76zM479.43 505.78h1.44v1.44h-1.44zM482.31 505.78h1.44v1.44h-1.44zM502.45 505.78h1.44v1.44h-1.44zM508.21 505.78h2.88v1.44h-2.88zM515.40 505.78h5.76v1.44h-5.76zM466.48 507.22h1.44v1.44h-1.44zM469.36 507.22h2.88v1.44h-2.88zM475.11 507.22h1.44v1.44h-1.44zM479.43 507.22h4.32v1.44h-4.32zM502.45 507.22h5.76v1.44h-5.76zM509.65 507.22h2.88v1.44h-2.88zM513.97 507.22h4.32v1.44h-4.32zM519.72 507.22h1.44v1.44h-1.44zM463.60 508.66h2.88v1.44h-2.88zM469.36 508.66h7.20v1.44h-7.20zM477.99 508.66h1.44v1.44h-1.44zM480.87 508.66h1.44v1.44h-1.44zM503.89 508.66h2.88v1.44h-2.88zM509.65 508.66h2.88v1.44h-2.88zM515.40 508.66h2.88v1.44h-2.88zM519.72 508.66h1.44v1.44h-1.44zM466.48 510.10h1.44v1.44h-1.44zM469.36 510.10h2.88v1.44h-2.88zM475.11 510.10h8.63v1.44h-8.63zM502.45 510.10h1.44v1.44h-1.44zM505.33 510.10h1.44v1.44h-1.44zM508.21 510.10h4.32v1.44h-4.32zM513.97 510.10h2.88v1.44h-2.88zM519.72 510.10h2.88v1.44h-2.88zM463.60 511.54h11.51v1.44h-11.51zM476.55 511.54h1.44v1.44h-1.44zM480.87 511.54h2.88v1.44h-2.88zM502.45 511.54h1.44v1.44h-1.44zM506.77 511.54h2.88v1.44h-2.88zM511.09 511.54h1.44v1.44h-1.44zM513.97 511.54h1.44v1.44h-1.44zM516.84 511.54h2.88v1.44h-2.88zM521.16 511.54h1.44v1.44h-1.44zM463.60 512.98h8.63v1.44h-8.63zM476.55 512.98h1.44v1.44h-1.44zM479.43 512.98h2.88v1.44h-2.88zM483.75 512.98h1.44v1.44h-1.44zM486.62 512.98h1.44v1.44h-1.44zM490.94 512.98h1.44v1.44h-1.44zM495.26 512.98h1.44v1.44h-1.44zM498.14 512.98h1.44v1.44h-1.44zM502.45 512.98h1.44v1.44h-1.44zM505.33 512.98h2.88v1.44h-2.88zM509.65 512.98h1.44v1.44h-1.44zM512.53 512.98h1.44v1.44h-1.44zM519.72 512.98h2.88v1.44h-2.88zM463.60 514.41h2.88v1.44h-2.88zM467.92 514.41h2.88v1.44h-2.88zM472.23 514.41h2.88v1.44h-2.88zM476.55 514.41h8.63v1.44h-8.63zM488.06 514.41h1.44v1.44h-1.44zM490.94 514.41h2.88v1.44h-2.88zM495.26 514.41h4.32v1.44h-4.32zM503.89 514.41h4.32v1.44h-4.32zM511.09 514.41h1.44v1.44h-1.44zM513.97 514.41h1.44v1.44h-1.44zM518.28 514.41h1.44v1.44h-1.44zM521.16 514.41h1.44v1.44h-1.44zM463.60 515.85h5.76v1.44h-5.76zM470.80 515.85h1.44v1.44h-1.44zM475.11 515.85h2.88v1.44h-2.88zM479.43 515.85h1.44v1.44h-1.44zM483.75 515.85h5.76v1.44h-5.76zM493.82 515.85h1.44v1.44h-1.44zM498.14 515.85h1.44v1.44h-1.44zM501.01 515.85h8.63v1.44h-8.63zM515.40 515.85h4.32v1.44h-4.32zM521.16 515.85h1.44v1.44h-1.44zM463.60 517.29h1.44v1.44h-1.44zM467.92 517.29h1.44v1.44h-1.44zM470.80 517.29h4.32v1.44h-4.32zM479.43 517.29h1.44v1.44h-1.44zM482.31 517.29h2.88v1.44h-2.88zM492.38 517.29h1.44v1.44h-1.44zM498.14 517.29h1.44v1.44h-1.44zM502.45 517.29h2.88v1.44h-2.88zM506.77 517.29h1.44v1.44h-1.44zM509.65 517.29h4.32v1.44h-4.32zM515.40 517.29h5.76v1.44h-5.76zM467.92 518.73h1.44v1.44h-1.44zM470.80 518.73h1.44v1.44h-1.44zM476.55 518.73h1.44v1.44h-1.44zM482.31 518.73h5.76v1.44h-5.76zM495.26 518.73h4.32v1.44h-4.32zM501.01 518.73h8.63v1.44h-8.63zM511.09 518.73h2.88v1.44h-2.88zM515.40 518.73h1.44v1.44h-1.44zM519.72 518.73h2.88v1.44h-2.88zM463.60 520.17h1.44v1.44h-1.44zM466.48 520.17h1.44v1.44h-1.44zM469.36 520.17h5.76v1.44h-5.76zM476.55 520.17h4.32v1.44h-4.32zM483.75 520.17h4.32v1.44h-4.32zM489.50 520.17h4.32v1.44h-4.32zM495.26 520.17h1.44v1.44h-1.44zM498.14 520.17h2.88v1.44h-2.88zM502.45 520.17h2.88v1.44h-2.88zM506.77 520.17h1.44v1.44h-1.44zM513.97 520.17h4.32v1.44h-4.32zM519.72 520.17h1.44v1.44h-1.44zM463.60 521.61h4.32v1.44h-4.32zM469.36 521.61h2.88v1.44h-2.88zM473.67 521.61h4.32v1.44h-4.32zM482.31 521.61h4.32v1.44h-4.32zM490.94 521.61h2.88v1.44h-2.88zM496.70 521.61h2.88v1.44h-2.88zM501.01 521.61h4.32v1.44h-4.32zM508.21 521.61h11.51v1.44h-11.51zM463.60 523.05h1.44v1.44h-1.44zM466.48 523.05h2.88v1.44h-2.88zM472.23 523.05h4.32v1.44h-4.32zM477.99 523.05h7.20v1.44h-7.20zM488.06 523.05h1.44v1.44h-1.44zM490.94 523.05h2.88v1.44h-2.88zM495.26 523.05h1.44v1.44h-1.44zM499.58 523.05h1.44v1.44h-1.44zM503.89 523.05h2.88v1.44h-2.88zM509.65 523.05h10.07v1.44h-10.07zM521.16 523.05h1.44v1.44h-1.44zM475.11 524.49h1.44v1.44h-1.44zM479.43 524.49h1.44v1.44h-1.44zM483.75 524.49h2.88v1.44h-2.88zM488.06 524.49h4.32v1.44h-4.32zM495.26 524.49h2.88v1.44h-2.88zM499.58 524.49h1.44v1.44h-1.44zM502.45 524.49h1.44v1.44h-1.44zM506.77 524.49h4.32v1.44h-4.32zM515.40 524.49h2.88v1.44h-2.88zM519.72 524.49h2.88v1.44h-2.88zM463.60 525.93h10.07v1.44h-10.07zM475.11 525.93h1.44v1.44h-1.44zM479.43 525.93h2.88v1.44h-2.88zM483.75 525.93h4.32v1.44h-4.32zM492.38 525.93h1.44v1.44h-1.44zM495.26 525.93h1.44v1.44h-1.44zM498.14 525.93h1.44v1.44h-1.44zM503.89 525.93h7.20v1.44h-7.20zM512.53 525.93h1.44v1.44h-1.44zM515.40 525.93h7.20v1.44h-7.20zM463.60 527.37h1.44v1.44h-1.44zM472.23 527.37h1.44v1.44h-1.44zM475.11 527.37h1.44v1.44h-1.44zM479.43 527.37h1.44v1.44h-1.44zM485.19 527.37h1.44v1.44h-1.44zM489.50 527.37h2.88v1.44h-2.88zM495.26 527.37h5.76v1.44h-5.76zM502.45 527.37h2.88v1.44h-2.88zM508.21 527.37h2.88v1.44h-2.88zM515.40 527.37h1.44v1.44h-1.44zM519.72 527.37h1.44v1.44h-1.44zM463.60 528.80h1.44v1.44h-1.44zM466.48 528.80h4.32v1.44h-4.32zM472.23 528.80h1.44v1.44h-1.44zM475.11 528.80h10.07v1.44h-10.07zM486.62 528.80h1.44v1.44h-1.44zM489.50 528.80h1.44v1.44h-1.44zM495.26 528.80h2.88v1.44h-2.88zM499.58 528.80h1.44v1.44h-1.44zM503.89 528.80h1.44v1.44h-1.44zM509.65 528.80h8.63v1.44h-8.63zM521.16 528.80h1.44v1.44h-1.44zM463.60 530.24h1.44v1.44h-1.44zM466.48 530.24h4.32v1.44h-4.32zM472.23 530.24h1.44v1.44h-1.44zM475.11 530.24h1.44v1.44h-1.44zM477.99 530.24h1.44v1.44h-1.44zM480.87 530.24h5.76v1.44h-5.76zM490.94 530.24h4.32v1.44h-4.32zM499.58 530.24h1.44v1.44h-1.44zM503.89 530.24h7.20v1.44h-7.20zM463.60 531.68h1.44v1.44h-1.44zM466.48 531.68h4.32v1.44h-4.32zM472.23 531.68h1.44v1.44h-1.44zM475.11 531.68h2.88v1.44h-2.88zM482.31 531.68h1.44v1.44h-1.44zM488.06 531.68h7.20v1.44h-7.20zM498.14 531.68h1.44v1.44h-1.44zM501.01 531.68h2.88v1.44h-2.88zM508.21 531.68h4.32v1.44h-4.32zM516.84 531.68h4.32v1.44h-4.32zM463.60 533.12h1.44v1.44h-1.44zM472.23 533.12h1.44v1.44h-1.44zM476.55 533.12h2.88v1.44h-2.88zM480.87 533.12h1.44v1.44h-1.44zM483.75 533.12h2.88v1.44h-2.88zM492.38 533.12h1.44v1.44h-1.44zM496.70 533.12h1.44v1.44h-1.44zM499.58 533.12h1.44v1.44h-1.44zM503.89 533.12h2.88v1.44h-2.88zM509.65 533.12h2.88v1.44h-2.88zM513.97 533.12h1.44v1.44h-1.44zM516.84 533.12h4.32v1.44h-4.32zM463.60 534.56h10.07v1.44h-10.07zM475.11 534.56h1.44v1.44h-1.44zM482.31 534.56h2.88v1.44h-2.88zM489.50 534.56h1.44v1.44h-1.44zM496.70 534.56h2.88v1.44h-2.88zM501.01 534.56h1.44v1.44h-1.44zM508.21 534.56h5.76v1.44h-5.76zM518.28 534.56h1.44v1.44h-1.44z" fill="#111111" shape-rendering="crispEdges"/>
<rect x="484.4" y="499.4" width="17.2" height="12.4" rx="1.6" fill="#ffffff"/>
<path d="M487.2 507.8 q0.2 -2.2 1.8 -2.4 q-1.4 -0.6 -0.6 -2 q0.8 -1 2.2 -0.6" fill="none" stroke="#2aa3cf" stroke-width="0.9"/>
<text x="495.4" y="507.4" font-family='"Liberation Sans", "Noto Sans CJK SC", sans-serif' font-size="4.6" font-weight="bold" fill="#2aa3cf" text-anchor="middle">舒华</text>
<path d="M487.4 509.4 H499.4" stroke="#8fd0e6" stroke-width="0.6"/>
</g>
<g id="company" font-family='"Liberation Sans", "Noto Sans CJK SC", sans-serif' font-weight="bold" fill="#ffffff">
<text x="535.4" y="491.3" font-size="16.5" font-weight="900" textLength="248.5" lengthAdjust="spacing">广西舒华体育健身器材有限公司</text>
<text x="535.2" y="514.6" font-size="16" textLength="145" lengthAdjust="spacingAndGlyphs">TEL:0771-5389182</text>
<text x="535.2" y="537.4" font-size="16" textLength="196.6" lengthAdjust="spacingAndGlyphs">HTTP:WWW.GXSHUA.COM</text>
</g>
</svg></body></html>
